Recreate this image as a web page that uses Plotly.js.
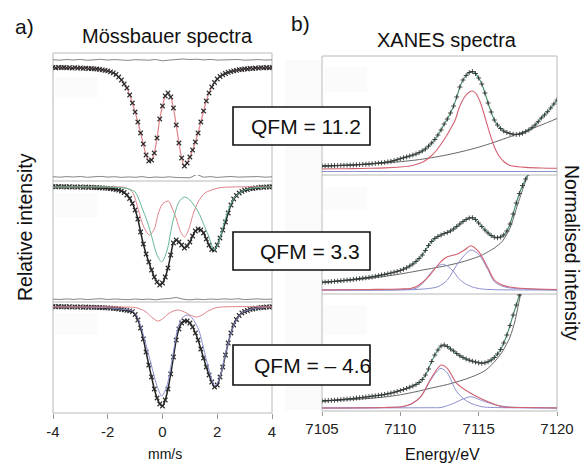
<!DOCTYPE html>
<html>
<head>
<meta charset="utf-8">
<script src="https://cdn.plot.ly/plotly-3.0.1.min.js"></script>
<style>html,body{margin:0;padding:0;background:#fff;}#chart{width:584px;height:463px;}</style>
</head>
<body>
<div id="chart"></div>
<script>
// ---------- Mössbauer data (velocity in mm/s, relative intensity in arb. units, baseline = 0) ----------
const mbVel = [-4.0,-3.9,-3.8,-3.7,-3.6,-3.5,-3.4,-3.3,-3.2,-3.1,-3.0,-2.9,-2.8,-2.7,-2.6,-2.5,-2.4,-2.3,-2.2,-2.1,-2.0,-1.9,-1.8,-1.7,-1.6,-1.5,-1.4,-1.3,-1.2,-1.1,-1.0,-0.9,-0.8,-0.7,-0.6,-0.5,-0.4,-0.3,-0.2,-0.1,0.0,0.1,0.2,0.3,0.4,0.5,0.6,0.7,0.8,0.9,1.0,1.1,1.2,1.3,1.4,1.5,1.6,1.7,1.8,1.9,2.0,2.1,2.2,2.3,2.4,2.5,2.6,2.7,2.8,2.9,3.0,3.1,3.2,3.3,3.4,3.5,3.6,3.7,3.8,3.9,4.0];
const mbSpec1 = [0.6,0.2,0.7,0.3,0.5,0.1,0.4,-0.1,0.3,-0.2,0.1,-0.3,-0.2,-0.6,-0.5,-0.9,-1.0,-1.4,-1.8,-2.3,-2.9,-3.8,-4.9,-6.5,-9,-12,-16,-20,-27,-35,-44,-54,-65,-76,-87,-93,-92,-85,-70,-51,-38,-28,-25,-29,-40,-57,-75,-90,-98,-95,-89,-82,-74,-65,-54,-43,-33,-25,-19,-14.5,-11,-8.5,-6.8,-5.5,-4.3,-3.6,-2.8,-2.4,-1.7,-1.5,-0.9,-1.0,-0.4,-0.6,0.0,-0.2,0.4,0.1,0.5,0.2,0.6];
const mbSpec2 = [0.5,0.1,0.6,0.2,0.4,0.0,0.3,-0.1,0.2,-0.2,0.1,-0.3,0.0,-0.4,-0.2,-0.6,-0.5,-0.8,-0.9,-1.2,-1.3,-1.7,-2.0,-2.6,-3.2,-4.0,-5.5,-8,-11.5,-16.5,-23,-32,-45,-57,-67,-75,-83,-90,-95,-98,-96,-90,-81,-68,-56,-53,-55,-58,-61,-59,-55,-49,-44,-42,-43,-46,-52,-58,-62.5,-63,-58,-51,-43,-35,-26,-18,-12,-8.5,-6,-4.4,-3.2,-2.6,-1.7,-1.5,-0.8,-0.9,-0.2,-0.4,0.2,0.0,0.4];
const mbSpec3 = [0.6,0.2,0.5,0.1,0.4,0.0,0.3,-0.1,0.2,-0.2,0.1,-0.3,0.0,-0.3,-0.1,-0.4,-0.3,-0.6,-0.6,-0.9,-0.9,-1.2,-1.4,-1.7,-2.0,-2.4,-2.8,-3.3,-3.9,-4.6,-7.5,-13,-21,-32,-45,-58,-70,-82,-91,-97,-99,-93,-82,-67,-50,-33,-22,-16,-14,-14,-16,-20,-26,-33,-42,-51,-60,-68,-75,-80,-78,-70,-60,-48,-36,-26,-18,-12.5,-8.5,-6,-4.5,-3.5,-2.4,-2.0,-1.2,-1.1,-0.4,-0.5,0.1,-0.1,0.4];
const mbResVel = [-4,-3.75,-3.5,-3.25,-3,-2.75,-2.5,-2.25,-2,-1.75,-1.5,-1.25,-1,-0.75,-0.5,-0.25,0,0.25,0.5,0.75,1,1.25,1.5,1.75,2,2.25,2.5,2.75,3,3.25,3.5,3.75,4];
const mbRes1 = [8.3,7.8,8.5,8.0,8.6,7.7,8.2,8.7,7.9,8.4,8.0,7.6,8.3,8.1,7.8,8.5,7.2,7.9,8.6,9.0,8.4,8.8,8.1,8.6,7.9,8.3,8.0,8.5,7.8,8.2,8.4,7.9,8.2];
const mbRes2 = [10.3,9.8,10.4,10.0,10.5,9.7,10.2,10.6,9.9,10.3,9.6,10.1,9.7,10.4,9.4,10.0,9.6,10.2,9.5,9.6,9.2,12.6,9.8,10.4,9.6,10.1,10.5,9.9,10.3,10.0,10.4,9.8,10.2];
const mbRes3 = [7.9,7.5,8.1,7.6,8.2,7.4,7.9,8.3,7.5,8.0,7.6,7.3,8.0,7.5,7.9,7.2,8.1,8.4,9.6,7.8,7.1,7.9,7.4,8.0,7.6,8.1,7.7,8.2,7.5,7.9,8.1,7.6,7.9];
const mbGreenVel2 = [-4,-2,-1.6,-1.3,-1.0,-0.9,-0.76,-0.55,-0.39,-0.2,-0.03,0.15,0.39,0.6,0.8,1.0,1.31,1.5,1.67,1.89,2.08,2.28,2.45,2.65,3.0,3.5,4];
const mbGreen2 = [0,0,-0.5,-1.5,-5,-10,-20,-35,-50,-68,-75,-65,-33,-15,-10,-13,-25,-37,-48,-63,-53,-33,-20,-10,-3,-0.5,0];
const mbRedVel2 = [-4,-2,-1.37,-1.1,-0.88,-0.7,-0.48,-0.3,-0.16,0.0,0.21,0.35,0.52,0.65,0.8,0.95,1.12,1.3,1.55,2.04,2.5,4];
const mbRed2 = [0,0,-0.5,-5,-23,-39,-48,-42,-27,-17,-14,-21,-33,-44,-50,-43,-27,-15,-6,-1,0,0];
const mbBlueVel3 = [-4,-2,-1.5,-1.12,-0.95,-0.76,-0.6,-0.39,-0.2,-0.03,0.15,0.34,0.58,0.75,0.9,1.05,1.31,1.5,1.67,1.92,2.1,2.28,2.53,2.7,2.89,3.2,3.5,4];
const mbBlue3 = [0.3,-0.8,-2.3,-3.5,-8,-22,-38,-60,-79,-89,-80,-54,-19,-10,-8,-10,-22,-41,-60,-79,-70,-49,-24,-13,-6,-2.5,-1,0.3];
const mbRedVel3 = [-4,-1.5,-1.0,-0.8,-0.6,-0.4,-0.18,0.0,0.2,0.4,0.58,0.8,1.0,1.25,1.45,1.7,2.0,4];
const mbRed3 = [0,0,-0.5,-2,-5,-10,-14,-12,-7,-4,-3,-5,-8,-10,-8,-3.5,-0.5,0];
const mbTickVals = [-4,-2,0,2,4];
const mbTickText = ['-4','-2','0','2','4'];

// ---------- XANES data (energy in eV, normalised intensity in arb. units) ----------
const xnE = [7105,7105.2,7105.4,7105.6,7105.8,7106,7106.2,7106.4,7106.6,7106.8,7107,7107.2,7107.4,7107.6,7107.8,7108,7108.2,7108.4,7108.6,7108.8,7109,7109.2,7109.4,7109.6,7109.8,7110,7110.2,7110.4,7110.6,7110.8,7111,7111.2,7111.4,7111.6,7111.8,7112,7112.2,7112.4,7112.6,7112.8,7113,7113.2,7113.4,7113.6,7113.8,7114,7114.2,7114.4,7114.6,7114.8,7115,7115.2,7115.4,7115.6,7115.8,7116,7116.2,7116.4,7116.6,7116.8,7117,7117.2,7117.4,7117.6,7117.8,7118,7118.2,7118.4,7118.6,7118.8,7119,7119.2,7119.4,7119.6,7119.8,7120];
const xnSpec1 = [4.0,4.1,4.2,4.3,4.4,4.5,4.6,4.7,4.8,4.9,5.0,5.2,5.4,5.6,5.8,6.0,6.3,6.6,6.9,7.2,7.6,8.1,8.7,9.4,10.3,11.3,12.2,13.1,14.0,15.0,16.0,17.4,19.0,21.0,23.8,27.0,30.5,35.0,40.0,46.0,51,57,64,73,83,90,94.5,97.5,98.5,96.5,92,86,77,67,58,50,45,41.5,39,37.5,36.5,35.8,35.5,35.8,36.8,38.3,40,42.3,45,48.3,52,55,58.3,62,66,70];
const xnSpec2 = [7.7,7.9,8.1,8.4,8.7,9.0,9.3,9.6,9.9,10.2,10.6,11.0,11.4,11.8,12.2,12.6,13.1,13.7,14.3,15.0,15.6,16.3,17.0,17.8,18.6,19.5,20.8,22.2,24.0,26.0,28.5,31.5,35.0,39.5,44.5,48.5,51.5,53.5,55.0,56.5,57.5,59.0,61.0,63.5,66.0,68.5,70.5,72.0,72.3,70.5,67.0,63.5,60.0,57.0,54.5,52.8,52.3,53.0,55.0,59.0,66.0,76.0,87.0,96.5,104.5,111.0,117.0,123.0];
const xnSpec3 = [7.0,7.2,7.4,7.6,7.8,8.1,8.4,8.7,8.9,9.2,9.5,9.9,10.2,10.6,11.0,11.4,11.8,12.2,12.6,13.0,13.6,14.2,14.9,15.7,16.6,17.5,18.5,19.6,20.8,22.0,23.5,25.5,28.5,33.0,39.0,46.5,53.0,58.0,62.0,63.0,61.5,59.0,57.0,54.5,52.3,50.5,49.0,47.8,46.8,46.0,45.2,44.8,45.2,46.3,48.0,50.5,54.0,58.5,65.0,73.0,82.5,93.0,103.0,113.0,123.0];
const xnBgE1 = [7105,7106,7107,7108,7109,7110,7111,7112,7113,7114,7115,7116,7117,7118,7119,7120];
const xnBg1 = [3.5,4.3,5.1,6.0,7.0,8.3,10.0,12.3,15.2,18.7,22.8,27.8,33.3,39.0,45.0,51.5];
const xnBgE2 = [7105,7106,7107,7108,7109,7110,7111,7112,7113,7114,7115,7115.5,7116,7116.5,7117,7117.5,7118,7118.4];
const xnBg2 = [7.5,8.7,10.0,11.6,13.6,16.0,18.8,21.6,24.5,28.3,33.5,37.3,42.0,48.5,62.0,86.0,109.0,123.0];
const xnBgE3 = [7105,7106,7107,7108,7109,7110,7111,7112,7113,7114,7115,7115.5,7116,7116.5,7117,7117.3,7117.6,7117.8];
const xnBg3 = [7.0,7.7,8.5,9.6,11.0,13.2,16.3,20.0,23.5,28.0,34.0,38.5,46.0,56.0,71.0,86.0,108.0,122.0];
const xnRedE1 = [7105,7106,7107,7108,7109,7110,7110.5,7111,7111.5,7112,7112.3,7112.6,7112.9,7113.2,7113.5,7113.8,7114.1,7114.4,7114.6,7114.8,7115.1,7115.4,7115.7,7116.0,7116.3,7116.6,7117,7117.5,7118,7119,7120];
const xnRed1 = [1.0,1.2,1.4,1.7,2.1,3.0,3.8,5.5,8.5,14.5,19.5,26,33,41,50,64,73,78,79,77,68,53,37,23,14,8.5,4.5,3.2,2.6,2.0,1.7];
const xnBlueE1 = [7105,7120];
const xnBlue1 = [-1.5,-1.5];
const xnRedE2 = [7105,7108,7110,7110.7,7111.2,7111.8,7112.4,7112.7,7113.0,7113.6,7114.1,7114.5,7115.0,7115.6,7116.0,7116.5,7116.9,7118,7120];
const xnRed2 = [0,0.5,1,1.7,5,13.3,25,30,33.3,35.7,40,44.3,38.3,21.7,10,5,3.3,1.5,0.5];
const xnBlueAE2 = [7105,7110,7111,7111.5,7112,7112.4,7112.7,7113,7113.4,7113.7,7114.1,7114.6,7115.2,7116,7120];
const xnBlueA2 = [0,0.5,1.7,8,18.3,24,25.7,24,18.3,12,6.7,3,1,0.3,0];
const xnBlueBE2 = [7105,7111,7112.4,7113,7113.6,7114.1,7114.5,7115,7115.6,7116,7116.5,7116.9,7118,7120];
const xnBlueB2 = [0,0.5,3.3,10,25,35,40,35.7,20,8.3,4,2.3,1,0];
const xnRedE3 = [7105,7109,7110.1,7110.7,7111.3,7111.9,7112.3,7112.6,7113.0,7113.6,7114.3,7115.2,7116.5,7118,7120];
const xnRed3 = [0,0.5,1.3,4,11.3,28,38,43,39.7,24.7,16.5,9,1.3,0.5,0];
const xnBlueAE3 = [7105,7109,7110.1,7110.7,7111.3,7111.9,7112.3,7112.6,7113.0,7113.6,7114.3,7115.2,7116,7120];
const xnBlueA3 = [0,0.5,1.3,4,11,27,36,39.7,35,16.3,6.3,1.3,0.5,0];
const xnBlueBE3 = [7105,7112,7112.6,7113.4,7114.0,7114.5,7115.2,7116.1,7117,7120];
const xnBlueB3 = [0,0.3,0.5,4.7,9,11.3,7.5,3,1,0];
const xnTickVals = [7105,7110,7115,7120];
const xnTickText = ['7105','7110','7115','7120'];
const qfmLabels = ['QFM = 11.2','QFM = 3.3','QFM = \u2013 4.6'];

// ---------- helpers (layout only) ----------
const W = 584, H = 463;
const PX = x => x / W;
const PY = y => 1 - y / H;
const FONT = 'Liberation Sans, Arial, sans-serif';

const RED_M = '#e0848a', GREEN_M = '#63b892', BLUE = '#8b8fd0', RED_X = '#d4606f', GREEN_X = '#3f8a64', DARK = '#222', BG = '#555';

function line(x, y, xa, ya, color, width, shape) {
  return {x: x, y: y, xaxis: xa, yaxis: ya, type: 'scatter', mode: 'lines',
    line: {color: color, width: width, shape: shape || 'spline', smoothing: 0.8}, hoverinfo: 'skip', showlegend: false};
}
function pts(x, y, xa, ya, withLine, lineColor, size, lw, symbol, mlw, mcol) {
  const mc = mcol || '#2a2a2a';
  return {x: x, y: y, xaxis: xa, yaxis: ya, type: 'scatter', mode: withLine ? 'lines+markers' : 'markers',
    line: {color: lineColor || DARK, width: lw || 1, shape: 'spline', smoothing: 0.8},
    marker: {symbol: symbol || 'x-thin', size: size || 4, color: mc, line: {color: mc, width: mlw || 1.1}},
    hoverinfo: 'skip', showlegend: false};
}

const traces = [
  // Mössbauer panel 1
  line(mbResVel, mbRes1, 'x', 'y', '#666', 0.8, 'linear'),
  line(mbVel, mbSpec1, 'x', 'y', RED_M, 1.2),
  pts(mbVel, mbSpec1, 'x', 'y', false, null, 4.5),
  // Mössbauer panel 2
  line(mbResVel, mbRes2, 'x', 'y2', '#666', 0.8, 'linear'),
  pts(mbVel, mbSpec2, 'x', 'y2', true, DARK, 4.5, 1.5),
  line(mbRedVel2, mbRed2, 'x', 'y2', RED_M, 1),
  line(mbGreenVel2, mbGreen2, 'x', 'y2', GREEN_M, 1),
  // Mössbauer panel 3
  line(mbResVel, mbRes3, 'x', 'y3', '#666', 0.8, 'linear'),
  pts(mbVel, mbSpec3, 'x', 'y3', true, DARK, 4.5, 1.5),
  line(mbBlueVel3, mbBlue3, 'x', 'y3', BLUE, 1),
  line(mbRedVel3, mbRed3, 'x', 'y3', RED_M, 1),
  // XANES panel 1
  line(xnBgE1, xnBg1, 'x2', 'y4', BG, 0.9),
  line(xnBlueE1, xnBlue1, 'x2', 'y4', BLUE, 1, 'linear'),
  line(xnRedE1, xnRed1, 'x2', 'y4', RED_X, 1.1),
  pts(xnE, xnSpec1, 'x2', 'y4', true, GREEN_X, 3.5, 1.1, 'cross-thin', 0.9, '#333'),
  // XANES panel 2
  line(xnBgE2, xnBg2, 'x2', 'y5', BG, 0.9),
  line(xnBlueAE2, xnBlueA2, 'x2', 'y5', BLUE, 1),
  line(xnBlueBE2, xnBlueB2, 'x2', 'y5', BLUE, 1),
  line(xnRedE2, xnRed2, 'x2', 'y5', RED_X, 1.1),
  pts(xnE, xnSpec2, 'x2', 'y5', true, GREEN_X, 3.5, 1.1, 'cross-thin', 0.9, '#333'),
  // XANES panel 3
  line(xnBgE3, xnBg3, 'x2', 'y6', BG, 0.9),
  line(xnBlueAE3, xnBlueA3, 'x2', 'y6', BLUE, 1),
  line(xnBlueBE3, xnBlueB3, 'x2', 'y6', BLUE, 1),
  line(xnRedE3, xnRed3, 'x2', 'y6', RED_X, 1.1),
  pts(xnE, xnSpec3, 'x2', 'y6', true, GREEN_X, 3.5, 1.1, 'cross-thin', 0.9, '#333')
];

const hiddenY = {visible: false, fixedrange: true};
const tickFont = {family: FONT, size: 15, color: '#222'};

function rect(x0, y0, x1, y1, fill, lineColor, lineWidth, layer) {
  return {type: 'rect', xref: 'paper', yref: 'paper', x0: PX(x0), x1: PX(x1), y0: PY(y1), y1: PY(y0),
    fillcolor: fill, line: {color: lineColor, width: lineWidth}, layer: layer || 'above'};
}
function hline(x0, x1, y, color) {
  return {type: 'line', xref: 'paper', yref: 'paper', x0: PX(x0), x1: PX(x1), y0: PY(y), y1: PY(y),
    line: {color: color, width: 1}, layer: 'below'};
}
function txt(text, x, y, size, opts) {
  return Object.assign({text: text, xref: 'paper', yref: 'paper', x: PX(x), y: PY(y), showarrow: false,
    xanchor: 'center', yanchor: 'middle', font: {family: FONT, size: size, color: '#111'}}, opts || {});
}

const FRAME = '#b8b8b8';
const FAINT = '#fbfbfb';
const shapes = [
  rect(285, 60, 321, 410, '#fafafa', 'rgba(0,0,0,0)', 0, 'below'),
  rect(55, 77, 98, 98, FAINT, 'rgba(0,0,0,0)', 0, 'below'),
  rect(55, 193, 98, 217, FAINT, 'rgba(0,0,0,0)', 0, 'below'),
  rect(55, 313, 98, 335, FAINT, 'rgba(0,0,0,0)', 0, 'below'),
  rect(325, 67, 367, 92, FAINT, 'rgba(0,0,0,0)', 0, 'below'),
  rect(323, 187, 367, 210, FAINT, 'rgba(0,0,0,0)', 0, 'below'),
  rect(323, 305, 367, 335, FAINT, 'rgba(0,0,0,0)', 0, 'below'),
  rect(53, 53, 272, 413, 'rgba(0,0,0,0)', FRAME, 1, 'below'),
  hline(53, 272, 181, FRAME),
  hline(53, 272, 302, FRAME),
  rect(322, 56, 557, 411, 'rgba(0,0,0,0)', FRAME, 1, 'below'),
  hline(322, 557, 175, FRAME),
  hline(322, 557, 294, FRAME),
  rect(233, 107, 370, 145, '#ffffff', '#111', 1.6),
  rect(233, 232, 370, 270, '#ffffff', '#111', 1.6),
  rect(233, 345, 370, 385, '#ffffff', '#111', 1.6)
];

const annotations = [
  txt('a)', 13, 26, 21, {xanchor: 'left'}),
  txt('b)', 289, 24, 21, {xanchor: 'left'}),
  txt('M\u00f6ssbauer spectra', 167, 36, 20),
  txt('XANES spectra', 447, 40, 20),
  txt('Relative intensity', 25, 227, 19.5, {textangle: -90}),
  txt('Normalised intensity', 572, 253, 19.5, {textangle: 90}),
  txt('mm/s', 165, 454, 14),
  txt('Energy/eV', 442, 454, 16),
  txt(qfmLabels[0], 306, 126, 21),
  txt(qfmLabels[1], 310, 251, 21),
  txt(qfmLabels[2], 312, 365, 21)
];

const layout = {
  width: W, height: H,
  margin: {l: 0, r: 0, t: 0, b: 0},
  paper_bgcolor: '#ffffff', plot_bgcolor: 'rgba(0,0,0,0)',
  showlegend: false,
  xaxis: {domain: [PX(53), PX(272)], range: [-4, 4], anchor: 'y3', tickvals: mbTickVals, ticktext: mbTickText,
    ticks: 'outside', ticklen: 5, tickcolor: '#999', tickfont: tickFont, showgrid: false, zeroline: false, showline: false, fixedrange: true},
  yaxis: Object.assign({domain: [PY(175), PY(53)], range: [-107, 15], anchor: 'x'}, hiddenY),
  yaxis2: Object.assign({domain: [PY(296), PY(175)], range: [-109, 12], anchor: 'x'}, hiddenY),
  yaxis3: Object.assign({domain: [PY(413), PY(296)], range: [-106, 11], anchor: 'x'}, hiddenY),
  xaxis2: {domain: [PX(322), PX(557)], range: [7105, 7120], anchor: 'y6', tickvals: xnTickVals, ticktext: xnTickText,
    ticks: 'outside', ticklen: 4, tickcolor: '#999', tickfont: tickFont, showgrid: false, zeroline: false, showline: false, fixedrange: true},
  yaxis4: Object.assign({domain: [PY(175), PY(56)], range: [-5, 114], anchor: 'x2'}, hiddenY),
  yaxis5: Object.assign({domain: [PY(294), PY(175)], range: [-4, 115], anchor: 'x2'}, hiddenY),
  yaxis6: Object.assign({domain: [PY(411), PY(294)], range: [-3, 114], anchor: 'x2'}, hiddenY),
  shapes: shapes,
  annotations: annotations
};

Plotly.newPlot('chart', traces, layout, {staticPlot: true, displayModeBar: false});
</script>
</body>
</html>
